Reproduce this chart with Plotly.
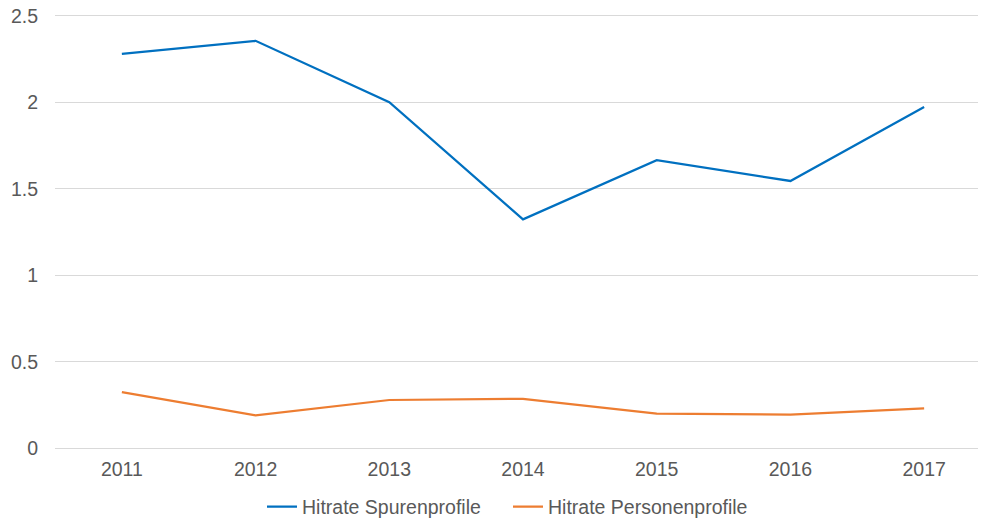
import plotly.graph_objects as go

years = ["2011", "2012", "2013", "2014", "2015", "2016", "2017"]
spuren = [2.28, 2.355, 2.0, 1.323, 1.665, 1.545, 1.972]
personen = [0.325, 0.19, 0.279, 0.286, 0.2, 0.194, 0.23]
y_ticks = [0, 0.5, 1, 1.5, 2, 2.5]
y_tick_labels = ["0", "0.5", "1", "1.5", "2", "2.5"]

font = "Liberation Sans, Arial, sans-serif"

fig = go.Figure()
fig.add_trace(go.Scatter(x=years, y=spuren, mode="lines", name="Hitrate Spurenprofile",
                         line=dict(color="#0070C0", width=2.25)))
fig.add_trace(go.Scatter(x=years, y=personen, mode="lines", name="Hitrate Personenprofile",
                         line=dict(color="#ED7D31", width=2.25)))

fig.update_layout(
    width=986, height=520,
    margin=dict(l=47, r=3, t=6, b=78, autoexpand=False),
    paper_bgcolor="white", plot_bgcolor="white",
    font=dict(family=font, size=19.5, color="#595959"),
    showlegend=True,
    legend=dict(orientation="h", x=(254 - 47) / 936, xanchor="left", y=-57 / 436, yanchor="middle",
                font=dict(size=19.5, color="#595959"), itemwidth=30, tracegroupgap=0,
                entrywidth=201, bgcolor="rgba(0,0,0,0)"),
    xaxis=dict(type="category", range=[-0.5, 6.5], showgrid=False, showline=False, zeroline=False,
               automargin=False,
               ticks="", tickfont=dict(size=19.5, color="#595959"), ticklabelstandoff=5),
    yaxis=dict(range=[-0.01, 2.51], tickvals=y_ticks, ticktext=y_tick_labels,
               showgrid=True, gridcolor="#D9D9D9", gridwidth=1, automargin=False,
               zeroline=False, showline=False, ticks="", ticklabeloverflow="allow",
               tickfont=dict(size=19.5, color="#595959"), ticklabelstandoff=16),
)

fig.write_html("out.html")
